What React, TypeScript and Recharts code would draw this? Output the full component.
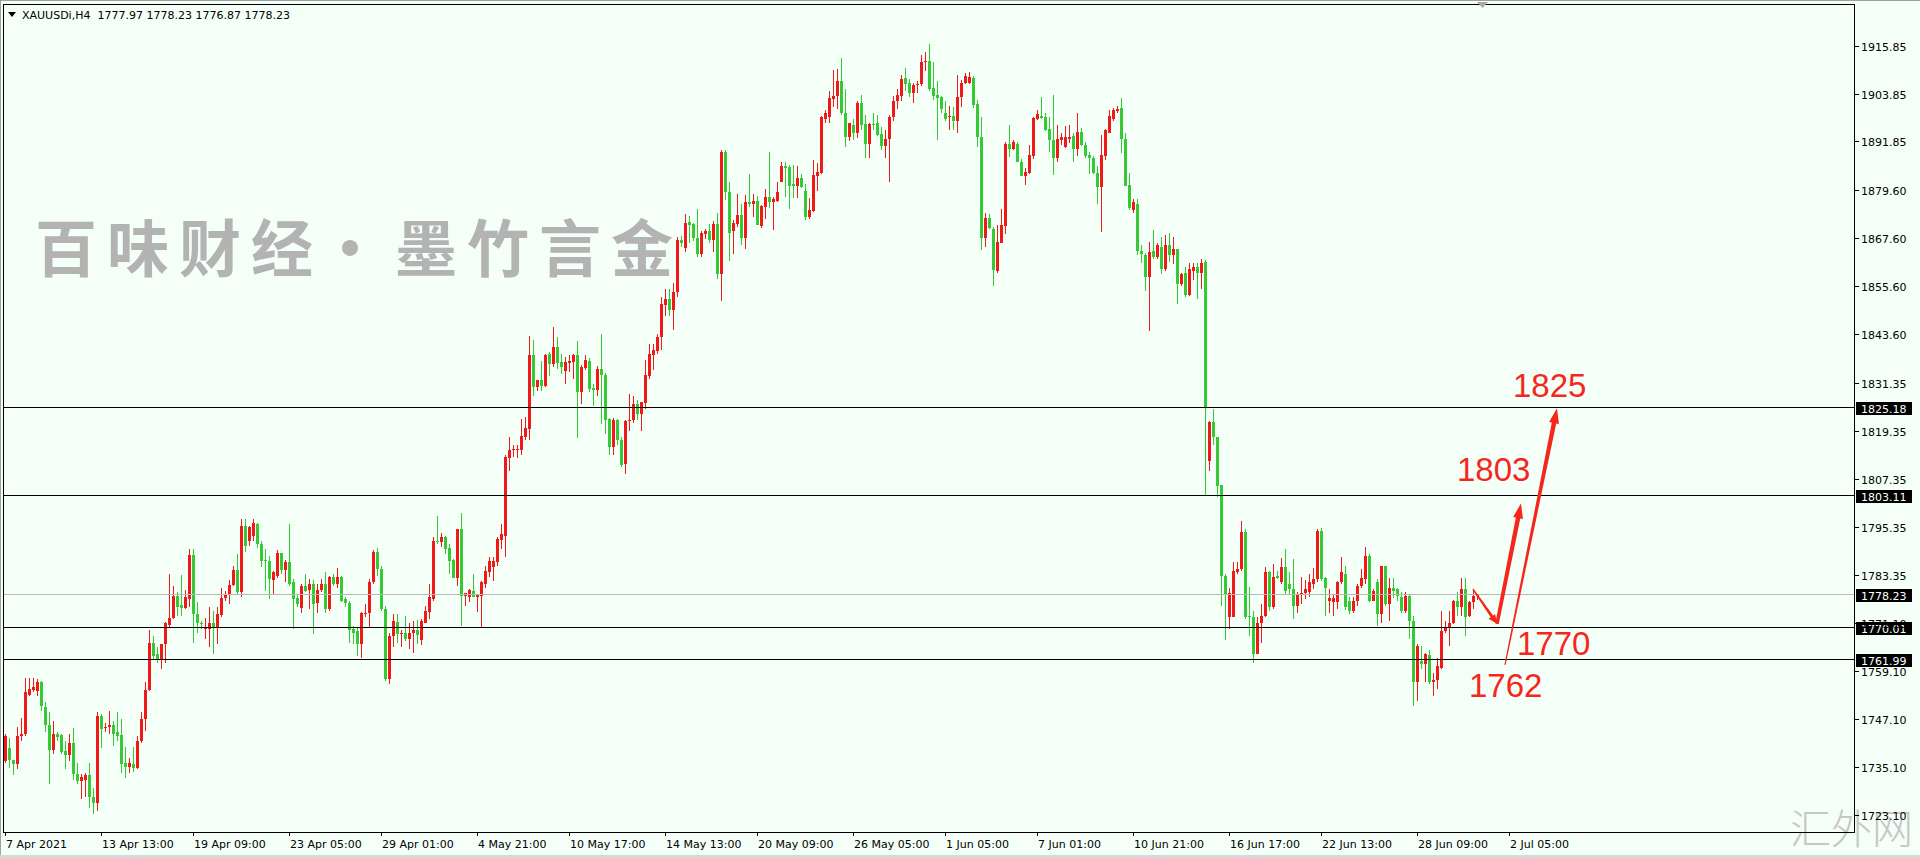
import React from 'react';
import { ComposedChart, Bar, XAxis, YAxis, ReferenceLine, ReferenceDot } from 'recharts';

// ---------- data (XAUUSDi, H4) ----------
const opens = [
  1736.6,1740.0,1736.8,1735.8,1742.9,1743.3,1753.2,1754.4,1754.2,1756.3,
  1750.2,1745.7,1739.5,1743.5,1743.2,1739.1,1738.1,1741.2,1733.3,1731.6,
  1731.9,1733.1,1727.6,1726.2,1747.9,1745.0,1745.2,1745.7,1744.0,1743.1,
  1736.2,1735.1,1735.8,1734.9,1741.6,1747.1,1754.4,1766.3,1763.4,1761.9,
  1765.9,1770.8,1772.4,1778.0,1775.8,1775.0,1777.2,1788.3,1773.4,1771.2,
  1769.8,1769.8,1771.1,1770.1,1773.3,1777.5,1778.3,1780.8,1784.5,1778.9,
  1795.6,1791.8,1793.1,1796.0,1791.0,1787.0,1786.8,1782.0,1783.1,1788.7,
  1784.5,1786.4,1781.4,1777.4,1775.0,1780.5,1779.5,1781.0,1776.1,1779.5,
  1781.0,1774.7,1782.8,1781.1,1782.8,1777.2,1776.1,1769.7,1769.2,1765.9,
  1773.6,1773.6,1781.4,1788.9,1784.7,1774.7,1757.1,1768.0,1771.4,1768.4,
  1768.8,1767.2,1768.8,1769.4,1766.9,1771.3,1773.9,1777.2,1791.8,1791.4,
  1792.7,1790.0,1787.0,1782.5,1794.8,1778.0,1777.8,1779.2,1777.8,1778.0,
  1781.0,1783.9,1785.2,1786.4,1792.0,1793.1,1812.6,1814.5,1814.5,1814.5,
  1817.8,1819.9,1838.3,1830.3,1832.0,1830.5,1838.7,1836.2,1840.4,1836.6,
  1834.4,1836.4,1836.6,1838.3,1829.1,1835.2,1836.9,1830.2,1829.7,1834.9,
  1833.3,1822.4,1815.3,1822.0,1817.1,1811.1,1821.8,1822.0,1826.2,1823.6,
  1826.3,1833.0,1838.3,1839.4,1842.9,1850.8,1852.5,1849.6,1854.2,1867.2,
  1865.1,1871.8,1871.3,1867.6,1863.6,1868.7,1869.3,1867.2,1871.3,1858.6,
  1889.1,1879.1,1869.3,1871.2,1873.4,1867.6,1876.8,1876.2,1877.0,1870.7,
  1875.5,1878.0,1876.8,1877.0,1881.8,1885.7,1885.4,1881.2,1880.6,1882.6,
  1879.5,1872.9,1874.5,1883.2,1883.9,1897.4,1898.0,1902.5,1903.3,1906.9,
  1899.0,1893.0,1896.0,1894.1,1901.6,1896.3,1891.3,1896.3,1896.5,1893.8,
  1890.8,1892.4,1898.0,1901.9,1903.3,1907.7,1906.5,1904.0,1906.1,1906.3,
  1911.7,1911.9,1905.2,1903.5,1903.1,1899.0,1897.9,1898.3,1896.9,1903.0,
  1906.6,1906.6,1907.7,1901.3,1892.9,1867.6,1872.6,1869.8,1859.4,1866.5,
  1870.7,1891.3,1889.9,1891.3,1886.8,1883.2,1884.0,1888.3,1897.4,1898.3,
  1898.0,1895.0,1892.3,1887.7,1892.3,1890.4,1892.4,1893.3,1889.9,1894.3,
  1891.0,1888.5,1887.7,1883.9,1880.4,1888.2,1894.1,1897.4,1899.6,1900.2,
  1892.4,1881.0,1874.8,1876.2,1864.5,1863.4,1858.0,1864.5,1863.0,1865.3,
  1859.8,1865.9,1863.4,1865.0,1856.1,1858.9,1853.3,1859.4,1860.3,1858.8,
  1861.7,1811.9,1821.5,1817.8,1805.9,1783.0,1772.8,1772.8,1784.1,1784.7,
  1793.9,1773.0,1772.6,1763.5,1771.3,1773.0,1783.9,1775.1,1783.0,1781.4,
  1785.3,1780.9,1779.7,1775.5,1778.3,1778.6,1778.9,1781.0,1782.2,1794.2,
  1782.4,1776.6,1776.4,1776.4,1781.4,1783.6,1776.8,1774.3,1776.8,1780.5,
  1782.2,1788.1,1776.8,1781.4,1773.4,1785.6,1775.9,1780.1,1779.7,1777.6,
  1774.3,1778.0,1771.8,1756.3,1761.7,1760.9,1763.2,1756.3,1756.9,1760.0,
  1769.1,1770.0,1771.1,1776.8,1775.1,1779.7,1773.0,1776.4,1777.97,
];
const highs = [
  1743.3,1742.3,1737.0,1745.2,1747.3,1757.5,1757.5,1757.4,1757.1,1756.6,
  1751.3,1748.8,1746.7,1743.8,1743.3,1741.6,1743.3,1745.0,1736.2,1733.3,
  1733.7,1736.2,1729.9,1748.8,1748.3,1746.2,1749.2,1746.7,1748.8,1747.1,
  1740.1,1737.5,1740.1,1742.9,1749.0,1756.3,1769.4,1768.0,1765.1,1765.9,
  1771.4,1783.5,1780.6,1778.9,1783.3,1779.5,1789.8,1789.8,1776.4,1771.8,
  1772.4,1775.3,1774.3,1775.3,1780.1,1779.3,1782.0,1785.6,1788.5,1797.3,
  1797.3,1795.6,1797.3,1796.2,1791.8,1789.8,1788.1,1784.3,1789.5,1788.7,
  1787.0,1796.0,1782.2,1778.5,1781.0,1783.5,1782.2,1782.0,1781.0,1782.2,
  1783.9,1783.1,1783.5,1785.1,1783.1,1777.6,1776.8,1770.5,1770.1,1773.9,
  1775.9,1782.2,1789.5,1790.0,1785.6,1775.5,1768.8,1773.4,1773.4,1769.4,
  1773.0,1771.3,1771.8,1771.9,1772.2,1775.5,1781.1,1792.7,1797.9,1793.7,
  1793.1,1791.0,1787.2,1794.8,1798.7,1778.6,1779.7,1783.5,1778.5,1781.8,
  1785.6,1787.8,1787.7,1792.7,1796.0,1813.2,1817.9,1815.9,1815.9,1822.4,
  1822.8,1843.1,1842.1,1832.2,1836.9,1838.7,1839.1,1845.4,1842.9,1838.5,
  1837.9,1838.3,1838.7,1841.9,1835.8,1838.3,1837.5,1831.0,1835.5,1843.7,
  1833.9,1822.6,1822.6,1822.4,1817.8,1822.1,1828.7,1828.0,1827.0,1826.6,
  1837.2,1841.1,1841.2,1843.7,1852.9,1855.0,1855.0,1856.3,1868.0,1868.2,
  1873.7,1873.2,1871.5,1874.9,1869.3,1869.8,1871.3,1872.0,1873.9,1889.8,
  1889.6,1881.8,1872.2,1878.7,1876.2,1878.4,1883.7,1878.7,1878.2,1875.9,
  1879.9,1889.3,1878.0,1881.6,1886.8,1886.8,1886.0,1886.0,1885.6,1883.7,
  1881.2,1877.6,1887.1,1886.4,1898.3,1899.8,1904.4,1909.8,1910.0,1912.8,
  1905.0,1896.6,1897.5,1902.1,1903.6,1898.5,1896.6,1899.0,1898.5,1895.5,
  1894.8,1898.5,1903.3,1904.9,1908.6,1910.2,1907.5,1906.6,1906.9,1913.6,
  1914.2,1916.4,1911.7,1906.9,1903.3,1901.9,1900.8,1900.5,1908.6,1907.3,
  1909.0,1909.2,1908.2,1902.3,1897.9,1873.9,1873.7,1870.5,1870.9,1874.9,
  1891.6,1896.0,1892.1,1891.6,1887.4,1885.1,1891.0,1898.1,1899.8,1903.1,
  1899.0,1898.0,1903.6,1896.0,1893.9,1895.8,1896.0,1894.1,1899.0,1895.2,
  1891.6,1889.3,1888.2,1885.6,1893.5,1894.9,1899.8,1900.2,1900.8,1902.7,
  1893.9,1884.0,1877.4,1877.4,1865.9,1864.0,1866.7,1869.7,1866.3,1867.8,
  1868.4,1868.8,1868.0,1865.0,1858.9,1860.4,1861.4,1861.3,1861.3,1862.5,
  1862.1,1821.9,1824.9,1817.8,1805.9,1783.5,1780.1,1786.4,1786.6,1796.7,
  1794.8,1780.3,1774.3,1772.8,1775.9,1785.3,1784.3,1786.1,1784.3,1787.5,
  1789.7,1784.1,1787.2,1778.9,1782.8,1781.9,1783.6,1785.0,1794.8,1795.0,
  1782.8,1779.7,1778.4,1781.8,1787.8,1785.6,1777.6,1777.8,1780.9,1784.7,
  1790.3,1788.5,1779.7,1782.2,1785.6,1785.6,1782.4,1782.4,1780.1,1778.9,
  1778.9,1778.4,1773.0,1765.9,1765.5,1763.8,1764.4,1758.8,1762.5,1774.3,
  1771.7,1774.3,1776.9,1778.9,1782.4,1782.4,1776.8,1779.7,1778.23,
];
const lows = [
  1736.2,1734.9,1733.1,1734.5,1741.6,1742.9,1752.9,1753.8,1752.9,1749.2,
  1743.8,1730.9,1738.3,1741.6,1738.3,1734.7,1736.6,1731.8,1730.8,1727.2,
  1727.6,1724.9,1723.4,1724.1,1740.0,1743.8,1743.3,1740.4,1741.6,1733.7,
  1732.3,1733.7,1733.9,1734.5,1741.2,1744.2,1754.2,1762.1,1761.1,1759.6,
  1761.1,1770.1,1772.2,1773.0,1773.0,1774.7,1775.1,1766.3,1768.6,1769.7,
  1767.2,1765.2,1763.4,1765.9,1772.8,1776.8,1775.9,1780.6,1778.5,1777.6,
  1788.9,1790.6,1791.8,1790.0,1785.3,1779.3,1777.2,1778.5,1782.5,1783.6,
  1781.4,1780.5,1769.7,1775.1,1773.6,1778.9,1774.7,1768.4,1773.6,1778.9,
  1773.6,1774.3,1780.5,1780.1,1776.4,1775.1,1766.1,1765.9,1763.0,1762.5,
  1772.6,1770.1,1781.0,1783.1,1774.3,1756.7,1755.8,1765.1,1766.3,1765.1,
  1766.7,1764.6,1763.8,1765.9,1765.7,1771.1,1772.2,1776.8,1791.0,1790.3,
  1788.5,1783.5,1782.5,1780.5,1770.5,1775.5,1776.4,1777.6,1773.9,1770.1,
  1780.1,1782.8,1781.8,1785.6,1789.8,1787.8,1809.4,1812.8,1812.6,1813.2,
  1817.1,1817.1,1828.2,1829.3,1829.3,1830.3,1833.0,1835.4,1834.9,1833.7,
  1831.2,1834.1,1832.4,1817.6,1826.2,1834.5,1829.1,1825.7,1828.2,1821.1,
  1818.6,1813.2,1813.2,1815.7,1810.2,1808.6,1819.3,1821.3,1822.1,1819.3,
  1824.9,1832.4,1834.5,1838.7,1839.5,1848.1,1848.1,1844.6,1852.9,1865.5,
  1864.2,1866.3,1867.0,1863.0,1863.0,1867.3,1866.3,1864.2,1857.5,1851.9,
  1877.2,1862.0,1863.7,1870.5,1865.9,1864.8,1875.5,1873.0,1870.9,1870.1,
  1872.4,1875.1,1869.7,1876.8,1881.6,1877.9,1874.9,1877.6,1877.6,1880.1,
  1872.2,1872.4,1874.3,1879.5,1883.7,1896.6,1896.6,1900.5,1900.0,1898.5,
  1890.4,1891.9,1892.1,1892.7,1894.8,1887.7,1887.7,1894.8,1893.3,1889.6,
  1887.7,1881.8,1897.1,1900.0,1902.1,1904.4,1903.1,1901.6,1904.0,1905.8,
  1909.4,1904.4,1902.3,1892.1,1899.0,1896.9,1894.8,1894.8,1894.1,1900.5,
  1906.3,1906.3,1900.2,1890.4,1864.6,1865.3,1869.8,1855.6,1858.9,1866.3,
  1868.6,1887.9,1889.6,1886.6,1883.1,1881.0,1883.7,1887.4,1897.3,1897.4,
  1894.6,1889.3,1883.5,1886.6,1891.0,1890.2,1891.4,1886.8,1888.1,1890.6,
  1887.7,1883.7,1883.7,1876.2,1869.2,1887.2,1893.9,1896.9,1899.1,1888.9,
  1880.7,1874.7,1874.0,1863.4,1861.3,1854.4,1844.4,1862.5,1862.3,1858.6,
  1859.4,1861.7,1861.1,1851.2,1855.6,1852.9,1853.1,1857.1,1852.5,1854.8,
  1803.1,1809.4,1815.9,1802.7,1775.5,1766.9,1769.7,1772.8,1783.5,1784.3,
  1772.2,1768.0,1761.3,1763.4,1766.3,1772.6,1774.3,1774.7,1782.2,1781.1,
  1778.4,1778.4,1772.2,1773.8,1775.9,1777.2,1777.8,1779.7,1781.6,1781.8,
  1773.0,1773.8,1773.0,1774.7,1780.9,1774.4,1773.4,1773.8,1775.5,1780.1,
  1780.9,1776.4,1776.6,1770.5,1771.3,1775.5,1771.8,1777.4,1776.6,1773.8,
  1773.6,1767.2,1750.4,1751.7,1759.6,1756.3,1755.8,1752.9,1754.6,1759.6,
  1768.8,1765.5,1770.9,1773.0,1773.0,1768.0,1772.6,1774.7,1776.87,
];
const closes = [
  1742.9,1737.0,1735.8,1742.9,1743.3,1753.8,1754.6,1755.2,1756.3,1750.4,
  1745.7,1739.5,1743.5,1742.6,1739.0,1738.1,1741.2,1733.3,1731.6,1732.6,
  1733.1,1727.6,1726.2,1747.9,1744.6,1745.2,1745.7,1743.5,1742.9,1735.9,
  1735.1,1736.2,1734.9,1741.6,1747.1,1754.4,1766.3,1763.0,1761.9,1765.9,
  1771.1,1772.4,1778.0,1775.3,1775.0,1777.6,1788.3,1773.4,1771.1,1770.9,
  1770.3,1771.1,1770.1,1773.4,1777.5,1778.5,1780.8,1784.5,1778.9,1795.6,
  1790.5,1795.2,1796.2,1791.0,1786.8,1786.8,1782.2,1783.9,1788.7,1784.5,
  1786.4,1781.0,1777.2,1775.9,1780.5,1779.3,1781.1,1775.9,1779.5,1781.0,
  1774.7,1782.8,1781.1,1782.8,1776.8,1776.1,1769.4,1768.8,1765.9,1773.6,
  1773.8,1781.6,1788.9,1784.7,1774.7,1757.1,1768.0,1771.8,1768.4,1768.8,
  1767.2,1768.8,1769.4,1768.2,1771.8,1774.1,1777.6,1791.8,1791.6,1792.7,
  1789.8,1786.8,1782.5,1794.8,1778.0,1778.6,1779.5,1777.8,1778.3,1781.4,
  1784.3,1786.7,1786.7,1792.3,1793.5,1812.8,1814.6,1814.7,1814.7,1818.0,
  1820.0,1838.3,1830.3,1832.0,1830.5,1838.3,1836.2,1840.4,1836.4,1835.4,
  1836.6,1836.9,1838.3,1829.1,1835.4,1837.2,1829.9,1829.7,1834.9,1833.3,
  1822.1,1815.4,1822.0,1817.1,1810.9,1821.8,1822.1,1826.2,1823.6,1826.6,
  1833.3,1838.5,1839.5,1842.9,1851.1,1852.3,1849.6,1854.2,1867.2,1866.5,
  1871.5,1870.9,1867.6,1863.6,1868.8,1869.5,1867.2,1871.3,1858.6,1889.1,
  1879.1,1869.0,1871.5,1873.4,1867.6,1876.8,1876.2,1877.0,1870.9,1875.7,
  1878.0,1876.8,1877.4,1879.3,1885.7,1885.2,1880.7,1880.6,1882.6,1880.4,
  1872.9,1874.7,1883.5,1884.1,1898.0,1899.0,1902.7,1903.3,1906.9,1899.0,
  1893.0,1896.5,1894.1,1901.6,1896.0,1891.3,1896.3,1896.0,1893.5,1890.8,
  1892.4,1898.0,1902.1,1903.6,1907.5,1906.3,1904.0,1906.1,1906.3,1911.7,
  1912.0,1905.0,1903.3,1902.7,1900.0,1897.4,1898.3,1896.9,1903.1,1906.6,
  1908.2,1908.0,1901.0,1892.9,1867.6,1872.6,1870.3,1859.6,1866.7,1870.9,
  1891.3,1889.9,1891.8,1886.8,1883.2,1884.3,1888.5,1897.7,1898.8,1897.7,
  1894.8,1892.1,1887.7,1892.4,1892.9,1892.9,1893.1,1889.9,1894.3,1891.0,
  1888.1,1887.7,1883.9,1880.4,1888.5,1894.8,1898.3,1899.8,1900.0,1892.4,
  1880.7,1875.1,1876.8,1864.5,1863.6,1857.8,1864.2,1863.0,1865.9,1859.8,
  1865.9,1863.4,1865.0,1856.1,1858.6,1853.3,1859.8,1860.3,1858.8,1861.4,
  1825.0,1821.5,1817.8,1805.6,1783.0,1778.4,1778.6,1784.3,1784.7,1793.9,
  1772.8,1772.6,1763.5,1771.3,1773.0,1783.9,1775.1,1782.8,1782.5,1785.3,
  1779.3,1779.7,1775.5,1778.3,1778.6,1779.7,1781.4,1782.2,1794.2,1782.2,
  1780.1,1777.4,1777.4,1781.4,1783.9,1775.1,1774.3,1776.8,1780.5,1782.5,
  1788.1,1776.8,1779.3,1773.4,1785.6,1775.9,1780.1,1779.3,1778.0,1774.3,
  1778.0,1771.8,1756.3,1765.5,1760.9,1763.4,1756.3,1756.9,1760.4,1769.2,
  1770.2,1771.3,1776.8,1775.1,1779.7,1772.6,1776.4,1778.0,1778.23,
];

// bar slots on the time axis (empty slots on the right = chart shift)
const slotCount = 463;
const timeTickIndex = [0, 24, 47, 71, 94, 118, 141, 165, 188, 212, 235, 258, 282, 306, 329, 353, 376];
const timeTickLabels = [
  '7 Apr 2021', '13 Apr 13:00', '19 Apr 09:00', '23 Apr 05:00', '29 Apr 01:00', '4 May 21:00',
  '10 May 17:00', '14 May 13:00', '20 May 09:00', '26 May 05:00', '1 Jun 05:00', '7 Jun 01:00',
  '10 Jun 21:00', '16 Jun 17:00', '22 Jun 13:00', '28 Jun 09:00', '2 Jul 05:00',
];
const priceTicks = [
  1915.85, 1903.85, 1891.85, 1879.6, 1867.6, 1855.6, 1843.6, 1831.35, 1819.35,
  1807.35, 1795.35, 1783.35, 1771.1, 1759.1, 1747.1, 1735.1, 1723.1,
];
const priceDomain = [1718.84, 1926.3];
const levelPrices = [1825.18, 1803.11, 1770.01, 1761.99];
const bidPrice = 1778.23;
const symbolTitle = 'XAUUSDi,H4';
const lastBarText = '1777.97 1778.23 1776.87 1778.23';

// hand-drawn forecast arrows: [bar index, price]
const arrowStart = [[367, 1779.7], [373, 1771.0], [375, 1760.7]];
const arrowEnd = [[373, 1771.0], [379, 1801.2], [388, 1825.0]];
const targetTexts = ['1825', '1803', '1770', '1762'];
const targetPoints = [[377, 1827.9], [363, 1806.8], [378, 1763.2], [366, 1752.7]];

const watermarkChars = ['百', '味', '财', '经', '·', '墨', '竹', '言', '金'];
const siteMark = '汇外网';

// ---------- styles ----------
const BG = '#f4fff8';
const UP = '#f01818';
const DOWN = '#36c936';
const ANNOT = '#f5271d';
const AXIS_FONT = 'DejaVu Sans';

const chartData = Array.from({ length: slotCount }, (_, i) =>
  i < closes.length
    ? { i, o: opens[i], h: highs[i], l: lows[i], c: closes[i], range: [lows[i], highs[i]] }
    : { i, range: null }
);

function Candle(props: any) {
  const { x, y, width, height } = props;
  const d = props.payload || props;
  if (!d || d.o == null || !isFinite(y) || !isFinite(height) || !isFinite(x)) return null;
  const yTop = Math.min(y, y + height);
  const yBot = Math.max(y, y + height);
  const cx = Math.floor(x + width / 2);
  const span = d.h - d.l;
  const py = (v: number) => (span > 0 ? yTop + ((d.h - v) / span) * (yBot - yTop) : yTop);
  const color = d.c >= d.o ? UP : DOWN;
  const top = Math.round(py(Math.max(d.o, d.c)));
  const bot = Math.round(py(Math.min(d.o, d.c)));
  const wt = Math.round(yTop);
  const wb = Math.round(yBot);
  return (
    <g>
      <rect x={cx} y={wt} width={1} height={Math.max(1, wb - wt)} fill={color} />
      <rect x={cx - 1} y={top} width={3} height={Math.max(1, bot - top)} fill={color} />
    </g>
  );
}

function TimeTick(props: any) {
  const { x, y, payload } = props;
  const k = timeTickIndex.indexOf(payload.value);
  if (k < 0) return <g />;
  const tx = Math.round(x);
  return (
    <g>
      <rect x={tx} y={y} width={1} height={4} fill="#000" />
      <text x={tx + 1} y={y + 16} fontSize={11} fontFamily={AXIS_FONT} fill="#000">
        {timeTickLabels[k]}
      </text>
    </g>
  );
}

function PriceTick(props: any) {
  const { x, y, payload } = props;
  const ty = Math.round(y);
  return (
    <g>
      <rect x={x} y={ty} width={4} height={1} fill="#000" />
      <text x={x + 6} y={ty + 5} fontSize={11} fontFamily={AXIS_FONT} fill="#000">
        {Number(payload.value).toFixed(2)}
      </text>
    </g>
  );
}

function PriceTag(props: any) {
  const vb = props.viewBox || {};
  if (vb.x == null) return null;
  const yy = Math.round(vb.y);
  const xx = vb.x + vb.width + 1;
  return (
    <g>
      <rect x={xx} y={yy - 6} width={56} height={13} fill="#000" />
      <text x={xx + 5} y={yy + 5} fontSize={11} fontFamily={AXIS_FONT} fill="#fff">
        {props.tag}
      </text>
    </g>
  );
}

const makeArrow = (w0: number, w1: number, headLen: number, headW: number) => (p: any) => {
  const { x1, y1, x2, y2 } = p;
  if (![x1, y1, x2, y2].every((v) => typeof v === 'number' && isFinite(v))) return null;
  const dx = x2 - x1;
  const dy = y2 - y1;
  const len = Math.hypot(dx, dy) || 1;
  const ux = dx / len;
  const uy = dy / len;
  const nx = -uy;
  const ny = ux;
  const bx = x2 - ux * headLen;
  const by = y2 - uy * headLen;
  const pts = [
    [x1 + (nx * w0) / 2, y1 + (ny * w0) / 2],
    [bx + (nx * w1) / 2, by + (ny * w1) / 2],
    [bx + (nx * headW) / 2, by + (ny * headW) / 2],
    [x2, y2],
    [bx - (nx * headW) / 2, by - (ny * headW) / 2],
    [bx - (nx * w1) / 2, by - (ny * w1) / 2],
    [x1 - (nx * w0) / 2, y1 - (ny * w0) / 2],
  ];
  return <polygon points={pts.map((q) => q.join(',')).join(' ')} fill={ANNOT} />;
};
const arrowShapes = [makeArrow(1.5, 3, 9, 8), makeArrow(3.5, 4.5, 15, 10), makeArrow(1.2, 4.5, 15, 10)];

const makeTargetText = (label: string) => (p: any) => {
  if (!isFinite(p.cx) || !isFinite(p.cy)) return null;
  return (
    <text x={p.cx} y={p.cy} fontSize={33} fontFamily="Liberation Sans" fill={ANNOT}>
      {label}
    </text>
  );
};

export default function App() {
  return (
    <div style={{ position: 'absolute', left: 0, top: 0, width: 1920, height: 858, background: BG, overflow: 'hidden' }}>
      <svg width={1920} height={858} style={{ position: 'absolute', left: 0, top: 0 }}>
        {watermarkChars.map((ch, k) => (
          <text
            key={k}
            x={k === 4 ? 350 : 35 + k * 72}
            y={272}
            textAnchor={k === 4 ? 'middle' : 'start'}
            fontSize={62}
            fontWeight={700}
            fontFamily="Noto Sans CJK SC"
            fill="#b3b3b3"
          >
            {ch}
          </text>
        ))}
        <text x={1790} y={844} fontSize={41} fontWeight={300} fontFamily="Noto Sans CJK SC" fill="#c6c6c6">
          {siteMark}
        </text>
      </svg>
      <div style={{ position: 'absolute', left: 0, top: 0 }}>
        <ComposedChart width={1920} height={858} data={chartData} margin={{ top: 4, left: 3, right: 0, bottom: 0 }}>
          <XAxis
            dataKey="i"
            type="category"
            interval={0}
            height={26}
            tickSize={0}
            tickMargin={0}
            axisLine={false}
            tickLine={false}
            tick={TimeTick}
          />
          <YAxis
            orientation="right"
            type="number"
            width={65}
            domain={priceDomain}
            allowDataOverflow
            ticks={priceTicks}
            interval={0}
            tickSize={0}
            tickMargin={0}
            axisLine={false}
            tickLine={false}
            tick={PriceTick}
          />
          <Bar dataKey="range" barSize={3} isAnimationActive={false} shape={Candle} />
          <ReferenceLine
            y={bidPrice}
            stroke="#b8b8b8"
            strokeWidth={1}
            shapeRendering="crispEdges"
            label={<PriceTag tag={bidPrice.toFixed(2)} />}
          />
          {levelPrices.map((v) => (
            <ReferenceLine
              key={v}
              y={v}
              stroke="#000"
              strokeWidth={1}
              shapeRendering="crispEdges"
              label={<PriceTag tag={v.toFixed(2)} />}
            />
          ))}
          {arrowStart.map((s, k) => (
            <ReferenceLine
              key={'a' + k}
              segment={[
                { x: s[0], y: s[1] },
                { x: arrowEnd[k][0], y: arrowEnd[k][1] },
              ]}
              stroke={ANNOT}
              shape={arrowShapes[k]}
            />
          ))}
          {targetTexts.map((t, k) => (
            <ReferenceDot
              key={'t' + k}
              x={targetPoints[k][0]}
              y={targetPoints[k][1]}
              r={0}
              shape={makeTargetText(t)}
            />
          ))}
        </ComposedChart>
      </div>
      <svg width={1920} height={858} style={{ position: 'absolute', left: 0, top: 0, pointerEvents: 'none' }}>
        <rect x={0} y={0} width={1920} height={1} fill="#a0a0a0" />
        <rect x={0} y={0} width={1} height={858} fill="#a0a0a0" />
        <rect x={0} y={855} width={1920} height={3} fill="#d8d8d8" />
        <rect x={3.5} y={4.5} width={1851} height={828} fill="none" stroke="#000" strokeWidth={1} />
        <polygon points="8,12 16,12 12,17" fill="#000" />
        <text x={22} y={19} fontSize={11} fontFamily={AXIS_FONT} fill="#000">
          {symbolTitle}
          {'\u00a0\u00a0'}
          {lastBarText}
        </text>
        <polygon points="1477,2 1488,2 1482.5,8" fill="#a8a8a8" />
      </svg>
    </div>
  );
}
